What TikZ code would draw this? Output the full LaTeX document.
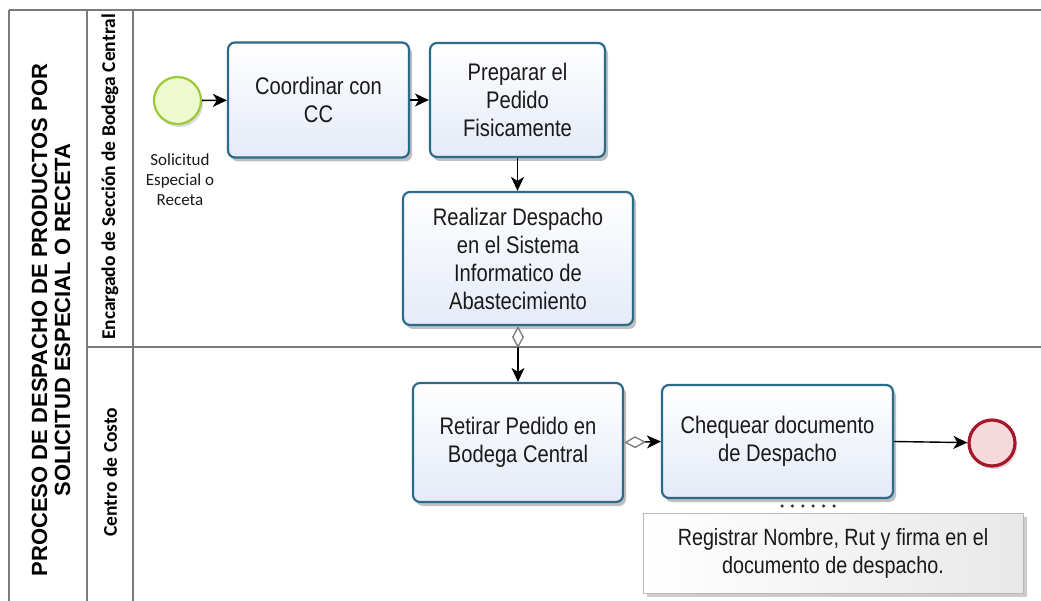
\documentclass[tikz,border=0pt]{standalone}
\usepackage{fontspec}
\usetikzlibrary{arrows.meta,shadows}

\newfontfamily\taskfont[FakeStretch=0.84]{Liberation Sans}
\newfontfamily\titlefont{Liberation Sans}
\newfontfamily\lanefont{Carlito}

\definecolor{taskline}{HTML}{2C6A8A}
\definecolor{taskfill}{HTML}{E4EAF7}
\definecolor{startline}{HTML}{9CC93A}
\definecolor{startfill}{HTML}{F0F8D0}
\definecolor{endline}{HTML}{A8162A}
\definecolor{endfill}{HTML}{F6D9DC}
\definecolor{laneline}{HTML}{7A7A7A}

\tikzset{
  task/.style={draw=taskline, line width=2.2pt, rounded corners=7pt,
    top color=white, bottom color=taskfill, text=black!90,
    align=center, inner sep=0pt,
    font=\taskfont\fontsize{24}{28}\selectfont,
    drop shadow={shadow xshift=3pt, shadow yshift=-4pt, opacity=0.25, fill=black}},
  note/.style={draw=gray!55, line width=0.8pt, left color=white, right color=gray!18,
    align=center, inner sep=0pt, text=black!90,
    font=\taskfont\fontsize{23.5}{28}\selectfont,
    drop shadow={shadow xshift=4pt, shadow yshift=-4pt, opacity=0.2, fill=black}},
  flow/.style={-{Stealth[length=14pt,width=13pt,inset=4pt]}, line width=1.4pt, black},
  condflow/.style={{Diamond[open,length=22pt,width=12pt,color=gray]}-{Stealth[length=14pt,width=13pt,inset=4pt]},
    line width=1.4pt, black},
  assoc/.style={line width=3.5pt, line cap=round, dash pattern=on 0pt off 10.4pt, black!80},
  lane/.style={laneline, line width=1.5pt},
}

\begin{document}
\begin{tikzpicture}[x=1pt,y=-1pt]
\useasboundingbox (0,0) rectangle (1041,601);

% pool y carriles
\draw[lane] (9,10) -- (1041,10);
\draw[lane] (9,10) -- (9,601);
\draw[lane] (87,10) -- (87,601);
\draw[lane] (133,10) -- (133,601);
\draw[lane] (87,347) -- (1041,347);

\node[rotate=90, align=center, font=\titlefont\bfseries\fontsize{22}{23}\selectfont] (titulo) at (51,320)
  {PROCESO DE DESPACHO DE PRODUCTOS POR\\SOLICITUD ESPECIAL O RECETA};
\node[rotate=90, font=\lanefont\bfseries\fontsize{19.5}{22}\selectfont] (carril1) at (110,177)
  {Encargado de Sección de Bodega Central};
\node[rotate=90, font=\lanefont\bfseries\fontsize{19.5}{22}\selectfont] (carril2) at (110,472)
  {Centro de Costo};

% eventos
\node[circle, draw=startline, line width=2.2pt, fill=startfill, minimum size=47pt,
  drop shadow={shadow xshift=2pt, shadow yshift=-3pt, opacity=0.15, fill=black}] (inicio) at (177.5,100.5) {};
\node[align=center, font=\lanefont\fontsize{17}{20}\selectfont, text=black!90] (inicioTxt) at (180,180)
  {Solicitud\\Especial o\\Receta};
\node[circle, draw=endline, line width=3.2pt, fill=endfill, minimum size=46pt,
  drop shadow={shadow xshift=2pt, shadow yshift=-3pt, opacity=0.15, fill=black}] (fin) at (992,443) {};

% tareas
\node[task, minimum width=181pt, minimum height=115pt] (coordinar) at (318.5,100) {Coordinar con\\CC};
\node[task, minimum width=175pt, minimum height=114pt] (preparar) at (517.5,100) {Preparar el\\Pedido\\Fisicamente};
\node[task, minimum width=230pt, minimum height=133pt] (realizar) at (518,258.5)
  {Realizar Despacho\\en el Sistema\\Informatico de\\Abastecimiento};
\node[task, minimum width=210pt, minimum height=119pt] (retirar) at (518,442.5) {Retirar Pedido en\\Bodega Central};
\node[task, minimum width=231pt, minimum height=113pt] (chequear) at (777.5,441.5) {Chequear documento\\de Despacho};
\node[note, minimum width=380pt, minimum height=80pt] (nota) at (833,553)
  {Registrar Nombre, Rut y firma en el\\documento de despacho.};

% flujos
\draw[flow] (inicio) -- (coordinar);
\draw[flow] (coordinar) -- (preparar);
\draw[flow] (preparar) -- (preparar |- realizar.north);
\draw[condflow] (realizar.south) -- (retirar.north);
\draw[condflow] (retirar.east) -- (chequear.west);
\draw[flow] (chequear.east) -- (fin);

\coordinate (asoc1) at (782,506);
\coordinate (asoc2) at (834,506);
\draw[assoc] (asoc1) -- (asoc2);
\end{tikzpicture}
\end{document}
